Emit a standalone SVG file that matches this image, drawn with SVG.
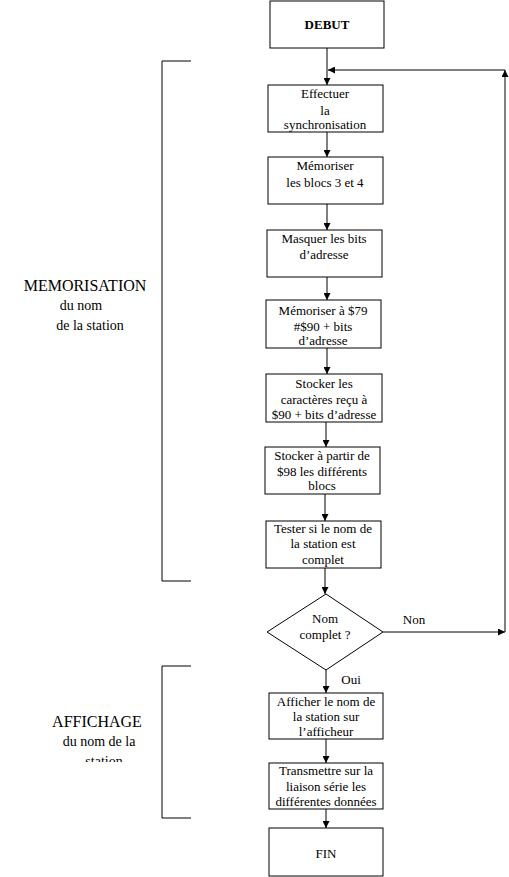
<svg xmlns="http://www.w3.org/2000/svg" width="509" height="877" viewBox="0 0 509 877">
<style>
  .box { fill: #fff; stroke: #000; stroke-width: 1; }
  .t { font-family: "Liberation Serif", "Times New Roman", serif; font-size: 13px; fill: #000; text-anchor: middle; }
  .b { font-weight: bold; }
  .lbl { font-family: "Liberation Serif", "Times New Roman", serif; font-size: 16px; fill: #000; text-anchor: middle; }
  .sub { font-size: 14px; }
  .ln { fill: none; stroke: #000; stroke-width: 1; }
</style>
<defs>
  <marker id="ah" viewBox="0 0 10 10" refX="10" refY="5" markerWidth="7" markerHeight="7" markerUnits="userSpaceOnUse" orient="auto">
    <path d="M0,0 L10,5 L0,10 z" fill="#000"/>
  </marker>
  <clipPath id="clipSt"><rect x="0" y="0" width="509" height="762"/></clipPath>
</defs>
<rect width="509" height="877" fill="#fff"/>

<g id="connectors">
  <line class="ln" x1="327" y1="48" x2="327" y2="85" marker-end="url(#ah)"/>
  <line class="ln" x1="327" y1="132" x2="327" y2="157" marker-end="url(#ah)"/>
  <line class="ln" x1="327" y1="204" x2="327" y2="230" marker-end="url(#ah)"/>
  <line class="ln" x1="327" y1="277" x2="327" y2="300" marker-end="url(#ah)"/>
  <line class="ln" x1="327" y1="348" x2="327" y2="374" marker-end="url(#ah)"/>
  <line class="ln" x1="326" y1="422" x2="326" y2="447" marker-end="url(#ah)"/>
  <line class="ln" x1="325" y1="494" x2="325" y2="521" marker-end="url(#ah)"/>
  <line class="ln" x1="325" y1="568" x2="325" y2="594" marker-end="url(#ah)"/>
  <line class="ln" x1="383" y1="632" x2="505" y2="632" marker-end="url(#ah)"/>
  <line class="ln" x1="505" y1="632" x2="505" y2="70" marker-end="url(#ah)"/>
  <line class="ln" x1="505" y1="70" x2="328" y2="70" marker-end="url(#ah)"/>
  <line class="ln" x1="326" y1="670" x2="326" y2="693" marker-end="url(#ah)"/>
  <line class="ln" x1="326" y1="739" x2="326" y2="763" marker-end="url(#ah)"/>
  <line class="ln" x1="326" y1="809" x2="326" y2="828" marker-end="url(#ah)"/>
  <text class="t" x="414" y="624">Non</text>
  <text class="t" x="351" y="684">Oui</text>
</g>

<g id="bracket-memorisation">
  <path class="ln" d="M191,61 H162 V581 H191"/>
  <text class="lbl" x="85" y="291">MEMORISATION</text>
  <text class="lbl sub" x="81" y="310">du nom</text>
  <text class="lbl sub" x="90" y="330">de la station</text>
</g>

<g id="bracket-affichage">
  <path class="ln" d="M191,666 H162 V818 H191"/>
  <text class="lbl" x="97" y="727">AFFICHAGE</text>
  <text class="lbl sub" x="99" y="746">du nom de la</text>
  <text class="lbl sub" x="104" y="766" clip-path="url(#clipSt)">station</text>
</g>

<g id="debut">
  <rect class="box" x="270" y="1" width="114" height="47"/>
  <text class="t b" x="327" y="29">DEBUT</text>
</g>

<g id="sync">
  <rect class="box" x="268" y="85" width="115" height="47"/>
  <text class="t" x="325" y="98">Effectuer</text>
  <text class="t" x="325" y="115">la</text>
  <text class="t" x="325" y="129">synchronisation</text>
</g>

<g id="memo-blocs">
  <rect class="box" x="268" y="157" width="115" height="47"/>
  <text class="t" x="325" y="170">Mémoriser</text>
  <text class="t" x="325" y="187">les blocs 3 et 4</text>
</g>

<g id="masquer">
  <rect class="box" x="267" y="230" width="115" height="47"/>
  <text class="t" x="324" y="243">Masquer les bits</text>
  <text class="t" x="324" y="259">d’adresse</text>
</g>

<g id="memo-79">
  <rect class="box" x="266" y="300" width="115" height="48"/>
  <text class="t" x="323" y="315">Mémoriser à $79</text>
  <text class="t" x="323" y="331">#$90 + bits</text>
  <text class="t" x="323" y="345">d’adresse</text>
</g>

<g id="stocker-car">
  <rect class="box" x="266" y="374" width="116" height="48"/>
  <text class="t" x="324" y="388">Stocker les</text>
  <text class="t" x="324" y="404">caractères reçu à</text>
  <text class="t" x="324" y="419">$90 + bits d’adresse</text>
</g>

<g id="stocker-98">
  <rect class="box" x="265" y="447" width="115" height="47"/>
  <text class="t" x="322" y="460">Stocker à partir de</text>
  <text class="t" x="322" y="476">$98 les différents</text>
  <text class="t" x="322" y="490">blocs</text>
</g>

<g id="tester">
  <rect class="box" x="266" y="521" width="115" height="47"/>
  <text class="t" x="323" y="533">Tester si le nom de</text>
  <text class="t" x="323" y="548">la station est</text>
  <text class="t" x="323" y="564">complet</text>
</g>

<g id="decision">
  <polygon class="box" points="326,594 383,632 326,670 267,632"/>
  <text class="t" x="325" y="623">Nom</text>
  <text class="t" x="325" y="639">complet ?</text>
</g>

<g id="afficher">
  <rect class="box" x="269" y="693" width="114" height="46"/>
  <text class="t" x="326" y="706">Afficher le nom de</text>
  <text class="t" x="326" y="721">la station sur</text>
  <text class="t" x="326" y="736">l’afficheur</text>
</g>

<g id="transmettre">
  <rect class="box" x="269" y="763" width="114" height="46"/>
  <text class="t" x="326" y="775">Transmettre sur la</text>
  <text class="t" x="326" y="791">liaison série les</text>
  <text class="t" x="326" y="806">différentes données</text>
</g>

<g id="fin">
  <rect class="box" x="269" y="828" width="114" height="48"/>
  <text class="t" x="326" y="858">FIN</text>
</g>
</svg>
